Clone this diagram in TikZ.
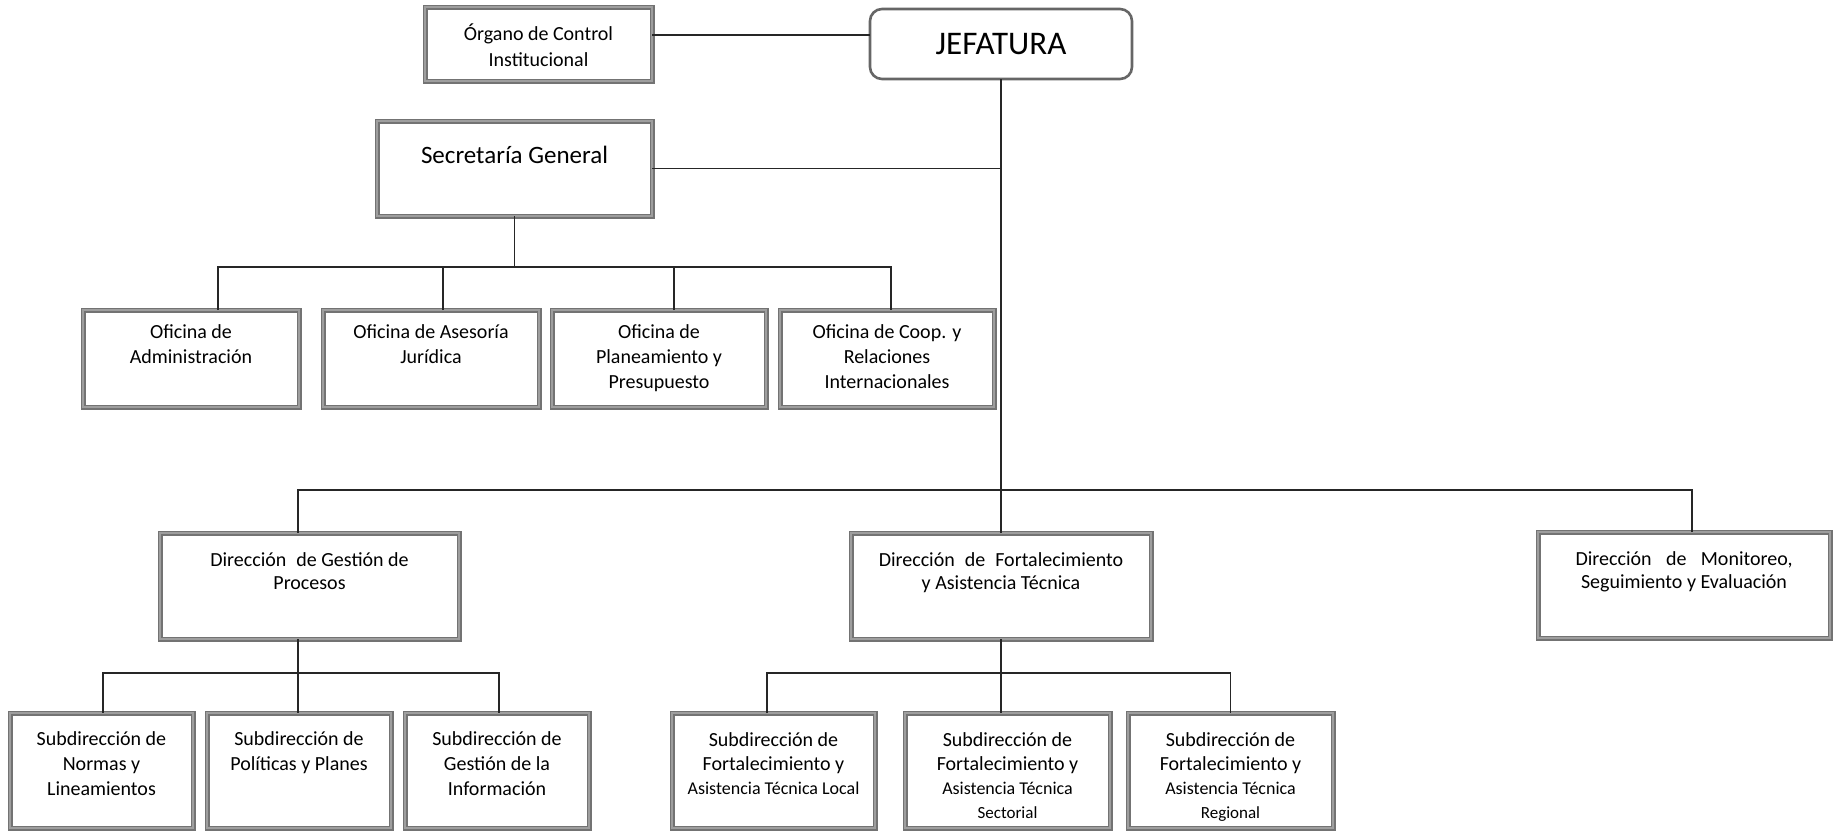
\documentclass[tikz,border=0pt]{standalone}
\usepackage{fontspec}
\setmainfont{Carlito}
\usetikzlibrary{fit}
\begin{document}
\begin{tikzpicture}[x=1pt,y=-1pt,
  box/.style={draw=black!55, double=black!38, double distance=2.8pt, line width=1.1pt, inner sep=0pt, outer sep=0pt},
  jefbox/.style={draw=black!60, line width=2.6pt, rounded corners=12pt, inner sep=0pt, outer sep=0pt},
  conn/.style={draw=black!85, line width=1.6pt},
  txt/.style={align=center, inner sep=0pt, anchor=north, font=\fontsize{20}{25}\selectfont, execute at begin node=\strut},
  txtb/.style={txt, font=\fontsize{20}{23}\selectfont},
  txts/.style={txt, font=\fontsize{20}{24}\selectfont},
  txto/.style={txt, font=\fontsize{20}{26}\selectfont}]
\useasboundingbox (0,0) rectangle (1833,831);
\fill[white] (0,0) rectangle (1833,831);

% boxes
\node[box, fit={(425,7) (652,81)}] (org) {};
\node[jefbox, fit={(870,9) (1132,79)}] (jef) {};
\node[box, fit={(377,121) (652,216)}] (sg) {};
\node[box, fit={(83,310) (299,407)}] (oa) {};
\node[box, fit={(323,310) (539,407)}] (ob) {};
\node[box, fit={(552,310) (766,407)}] (oc) {};
\node[box, fit={(780,310) (994,407)}] (od) {};
\node[box, fit={(160,533) (459,639)}] (dg) {};
\node[box, fit={(851,533) (1151,639)}] (df) {};
\node[box, fit={(1538,532) (1830,638)}] (dm) {};
\node[box, fit={(10,713) (193,828)}] (sn) {};
\node[box, fit={(207,713) (391,828)}] (sp) {};
\node[box, fit={(405,713) (589,828)}] (si) {};
\node[box, fit={(672,713) (875,828)}] (sl) {};
\node[box, fit={(905,713) (1110,828)}] (ss) {};
\node[box, fit={(1128,713) (1333,828)}] (sr) {};

% texts
\node[inner sep=0pt, font=\fontsize{33}{38}\selectfont] (tjef) at (jef.center) {JEFATURA};
\node[txto] (torg) at ([yshift=-17pt]org.north) {Órgano de Control\\Institucional};
\node[inner sep=0pt, font=\fontsize{25}{30}\selectfont] (tsg) at ([yshift=-34pt]sg.north) {Secretaría General};
\node[txt] (toa) at ([yshift=-14pt]oa.north) {Oficina de\\Administración};
\node[txt] (tob) at ([yshift=-14pt]ob.north) {Oficina de Asesoría\\Jurídica};
\node[txt] (toc) at ([yshift=-14pt]oc.north) {Oficina de\\Planeamiento y\\Presupuesto};
\node[txt] (tod) at ([yshift=-14pt]od.north) {Oficina de Coop. y\\Relaciones\\Internacionales};
\node[txtb] (tdg) at ([yshift=-19pt]dg.north) {Dirección\hspace{0.5em}de Gestión de\\Procesos};
\node[txtb] (tdf) at ([yshift=-19pt]df.north) {Dirección\hspace{0.5em}de\hspace{0.5em}Fortalecimiento\\y Asistencia Técnica};
\node[txtb] (tdm) at ([yshift=-19pt]dm.north) {Dirección\hspace{0.72em}de\hspace{0.72em}Monitoreo,\\Seguimiento y Evaluación};
\node[txt] (tsn) at ([yshift=-18pt]sn.north) {Subdirección de\\Normas y\\Lineamientos};
\node[txt] (tsp) at ([yshift=-18pt]sp.north) {Subdirección de\\Políticas y Planes};
\node[txt] (tsi) at ([yshift=-18pt]si.north) {Subdirección de\\Gestión de la\\Información};
\node[txts] (tsl) at ([yshift=-19pt]sl.north) {Subdirección de\\Fortalecimiento y\\{\fontsize{18}{24}\selectfont Asistencia Técnica Local}};
\node[txts] (tss) at ([yshift=-19pt]ss.north) {Subdirección de\\Fortalecimiento y\\{\fontsize{18}{24}\selectfont Asistencia Técnica}\\{\fontsize{17}{24}\selectfont Sectorial}};
\node[txts] (tsr) at ([yshift=-19pt]sr.north) {Subdirección de\\Fortalecimiento y\\{\fontsize{18}{24}\selectfont Asistencia Técnica}\\{\fontsize{17}{24}\selectfont Regional}};

% connectors
\draw[conn] ([yshift=9pt]org.east) -- ([yshift=9pt]jef.west);
\draw[conn] (jef.south) -- ++(0,411) coordinate (dj);
\draw[conn] (sg.east) -- (sg.east -| jef.south);
\draw[conn] (sg.south) -- ++(0,51);
\draw[conn] ([xshift=27pt]oa.north) -- ++(0,-43) -| ([xshift=4pt]od.north);
\draw[conn] ([xshift=12pt]ob.north) -- ++(0,-43);
\draw[conn] ([xshift=15pt]oc.north) -- ++(0,-43);
\draw[conn] ([xshift=-11.5pt]dg.north) -- ++(0,-43) -| ([xshift=8pt]dm.north);
\draw[conn] (df.north) -- ++(0,-43);
\draw[conn] ([xshift=-11.5pt]dg.south) -- ++(0,74);
\draw[conn] ([xshift=1.5pt]sn.north) -- ++(0,-40) -| ([xshift=2pt]si.north);
\draw[conn] (df.south) -- ++(0,74);
\draw[conn] ([xshift=-6.5pt]sl.north) -- ++(0,-40) -| (sr.north);
\end{tikzpicture}
\end{document}
